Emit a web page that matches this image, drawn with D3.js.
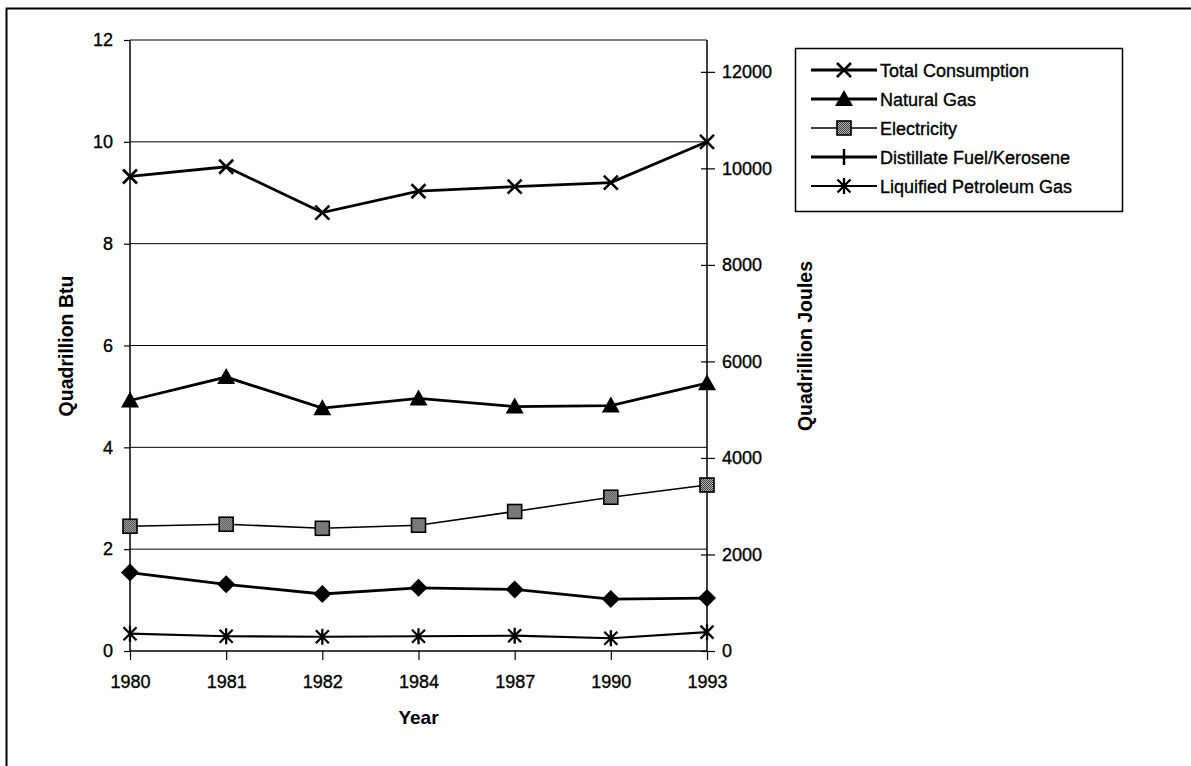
<!DOCTYPE html>
<html><head><meta charset="utf-8">
<script src="https://cdn.jsdelivr.net/npm/d3@7"></script>
<style>body{margin:0;background:#fff}svg{display:block}text{font-family:"Liberation Sans",Arial,sans-serif;fill:#000}</style>
</head><body>
<svg id="c" width="1191" height="766"></svg>
<script>
const years = ["1980","1981","1982","1984","1987","1990","1993"];
const totalConsumption = [9.32, 9.51, 8.61, 9.03, 9.12, 9.2, 10.0];
const naturalGas = [4.92, 5.38, 4.77, 4.96, 4.8, 4.82, 5.26];
const electricity = [2.45, 2.49, 2.41, 2.47, 2.74, 3.02, 3.26];
const distillate = [1.54, 1.31, 1.12, 1.24, 1.21, 1.02, 1.04];
const lpg = [0.34, 0.29, 0.28, 0.29, 0.3, 0.25, 0.37];
const leftTicks = [0, 2, 4, 6, 8, 10, 12];
const rightTicks = [0, 2000, 4000, 6000, 8000, 10000, 12000];
const seriesNames = ["Total Consumption","Natural Gas","Electricity","Distillate Fuel/Kerosene","Liquified Petroleum Gas"];

const svg = d3.select("#c");
const defs = svg.append("defs");
const pat = defs.append("pattern").attr("id","stip").attr("width",2).attr("height",2).attr("patternUnits","userSpaceOnUse");
pat.append("rect").attr("width",2).attr("height",2).attr("fill","#b8b8b8");
pat.append("rect").attr("width",1).attr("height",1).attr("fill","#3a3a3a");
pat.append("rect").attr("x",1).attr("y",1).attr("width",1).attr("height",1).attr("fill","#3a3a3a");

// outer frame (only top/left visible)
svg.append("rect").attr("x",6.5).attr("y",8.5).attr("width",1300).attr("height",900)
  .attr("fill","none").attr("stroke","#000").attr("stroke-width",2);

const L = 130, R = 707, T = 40, B = 651;
const FS = 18;
const x = d3.scalePoint().domain(years).range([L, R]);
const yL = d3.scaleLinear().domain([0, 12]).range([B, T]);
const yR = d3.scaleLinear().domain([0, 12 * 1055]).range([B, T]);

// gridlines
svg.append("g").selectAll("line").data(leftTicks.filter(d=>d>0)).join("line")
  .attr("x1",L).attr("x2",R).attr("y1",d=>yL(d)).attr("y2",d=>yL(d))
  .attr("stroke","#000").attr("stroke-width",1);

// left axis
const gl = svg.append("g").attr("transform",`translate(${L},0)`)
  .call(d3.axisLeft(yL).tickValues(leftTicks).tickSize(6).tickPadding(11).tickFormat(d3.format("d")));
// right axis
const gr = svg.append("g").attr("transform",`translate(${R},0)`)
  .call(d3.axisRight(yR).tickValues(rightTicks).tickSize(8).tickPadding(7).tickFormat(d3.format("d")));
gr.selectAll(".tick line").attr("x1",-6);
// bottom axis
const gb = svg.append("g").attr("transform",`translate(0,${B})`)
  .call(d3.axisBottom(x).tickSize(9).tickPadding(15));
[gl,gr,gb].forEach(g=>{
  g.selectAll("path").attr("stroke","#000").attr("stroke-width",1.5);
  g.selectAll(".tick line").attr("stroke","#000").attr("stroke-width",1.2);
  g.selectAll("text").attr("font-size",FS).attr("font-family","Liberation Sans, Arial, sans-serif")
    .attr("fill","#000").attr("stroke","#000").attr("stroke-width",0.35);
});
gl.select(".domain").attr("d",`M0,${B}V${T}`);
gr.select(".domain").attr("d",`M0,${B}V${T}`);
gb.select(".domain").attr("d",`M${L},0H${R}`);

// axis titles
svg.append("text").attr("transform",`translate(73,346) rotate(-90)`).attr("text-anchor","middle")
  .attr("font-size",19.5).attr("font-weight","bold").text("Quadrillion Btu");
svg.append("text").attr("transform",`translate(812,346) rotate(-90)`).attr("text-anchor","middle")
  .attr("font-size",19.5).attr("font-weight","bold").text("Quadrillion Joules");
svg.append("text").attr("x",(L+R)/2).attr("y",724).attr("text-anchor","middle")
  .attr("font-size",19).attr("font-weight","bold").text("Year");

// marker drawers
function marker(g, type) {
  if (type === "x") {
    g.append("path").attr("d","M-7,-7L7,7M-7,7L7,-7").attr("stroke","#000").attr("stroke-width",2.6).attr("fill","none");
  } else if (type === "tri") {
    g.append("path").attr("d","M0,-9L9,7L-9,7Z").attr("fill","#000");
  } else if (type === "sq") {
    g.append("rect").attr("x",-7).attr("y",-7).attr("width",14).attr("height",14).attr("fill","url(#stip)").attr("stroke","#000").attr("stroke-width",1.6);
  } else if (type === "dia") {
    g.append("path").attr("d","M0,-9L9,0L0,9L-9,0Z").attr("fill","#000");
  } else if (type === "plus") {
    g.append("path").attr("d","M0,-8V8").attr("stroke","#000").attr("stroke-width",2.5);
  } else if (type === "ast") {
    g.append("path").attr("d","M-6.5,-6.5L6.5,6.5M-6.5,6.5L6.5,-6.5M0,-8V8").attr("stroke","#000").attr("stroke-width",2.3).attr("fill","none");
  }
}

const series = [
  {vals: totalConsumption, m: "x", w: 2.8},
  {vals: naturalGas, m: "tri", w: 2.8},
  {vals: electricity, m: "sq", w: 1.6},
  {vals: distillate, m: "dia", w: 2.8},
  {vals: lpg, m: "ast", w: 2.2}
];
const line = d3.line().x((d,i)=>x(years[i])).y(d=>yL(d));
series.forEach(s=>{
  svg.append("path").attr("d", line(s.vals)).attr("fill","none").attr("stroke","#000").attr("stroke-width", s.w);
  s.vals.forEach((v,i)=>{
    const g = svg.append("g").attr("transform",`translate(${x(years[i])},${yL(v)})`);
    marker(g, s.m);
  });
});

// legend
const lg = svg.append("g");
lg.append("rect").attr("x",795.5).attr("y",48.5).attr("width",327).attr("height",163)
  .attr("fill","#fff").attr("stroke","#000").attr("stroke-width",1.5);
const legMarkers = ["x","tri","sq","plus","ast"];
const legW = [2.8,2.8,1.6,2.8,2.2];
seriesNames.forEach((n,i)=>{
  const cy = 70 + i*29;
  lg.append("line").attr("x1",811).attr("x2",877).attr("y1",cy).attr("y2",cy).attr("stroke","#000").attr("stroke-width",legW[i]);
  marker(lg.append("g").attr("transform",`translate(844,${cy})`), legMarkers[i]);
  lg.append("text").attr("x",880).attr("y",cy+6.5).attr("font-size",FS)
    .attr("stroke","#000").attr("stroke-width",0.35).text(n);
});
</script>
</body></html>
